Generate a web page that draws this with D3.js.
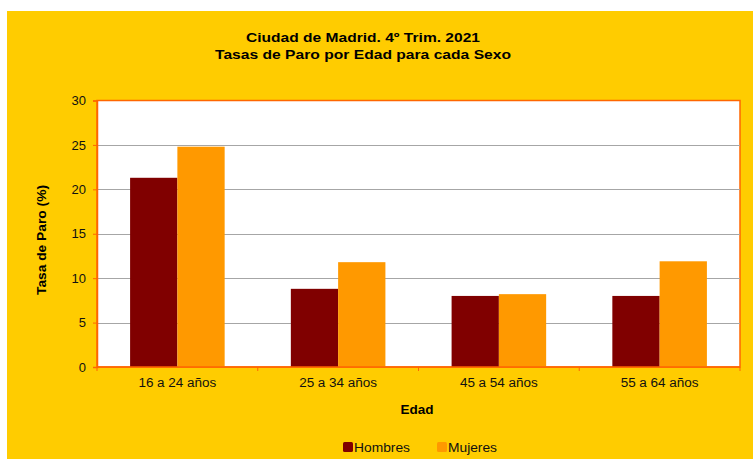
<!DOCTYPE html>
<html>
<head>
<meta charset="utf-8">
<script src="https://cdn.jsdelivr.net/npm/d3@7"></script>
<style>
body { margin: 0; background: #fff; }
text { font-family: "Liberation Sans", Arial, sans-serif; }
</style>
</head>
<body>
<svg id="main-svg" width="753" height="459"></svg>
<script>
// data
var categories = ["16 a 24 años", "25 a 34 años", "45 a 54 años", "55 a 64 años"];
var series = ["Hombres", "Mujeres"];
var hombres = [21.3, 8.8, 8.0, 8.0];
var mujeres = [24.8, 11.8, 8.2, 11.9];
var yTicks = [0, 5, 10, 15, 20, 25, 30];

var colors = {Hombres: "#800000", Mujeres: "#FF9900"};
var values = {Hombres: hombres, Mujeres: mujeres};

var svg = d3.select("#main-svg");

// chart background
svg.append("rect")
    .attr("x", 7).attr("y", 11)
    .attr("width", 746).attr("height", 448)
    .attr("fill", "#FFCC00");

// plot area bounds (don't call it "top", that's window.top)
var plotL = 97, plotR = 740, plotT = 100.5, plotB = 367;

var x = d3.scaleBand().domain(categories).range([plotL, plotR]);
var xs = d3.scaleBand().domain(series).range([0, x.bandwidth()]).paddingInner(0).paddingOuter(0.7);
var y = d3.scaleLinear().domain([0, 30]).range([plotB, plotT]);

// plot area
svg.append("rect")
    .attr("x", plotL).attr("y", plotT)
    .attr("width", plotR - plotL).attr("height", plotB - plotT)
    .attr("fill", "#fff")
    .attr("stroke", "#FF6600").attr("stroke-width", 1.5);

// gridlines
svg.append("g").selectAll("line")
    .data(yTicks.filter(function (d) { return d > 0 && d < 30; }))
    .enter().append("line")
    .attr("x1", plotL).attr("x2", plotR)
    .attr("y1", function (d) { return Math.round(y(d)) + 0.5; })
    .attr("y2", function (d) { return Math.round(y(d)) + 0.5; })
    .attr("stroke", "#A6A6A6").attr("stroke-width", 1);

// bars
var rows = [];
categories.forEach(function (c, i) {
    series.forEach(function (s) {
        rows.push({cat: c, ser: s, val: values[s][i]});
    });
});
svg.append("g").selectAll("rect")
    .data(rows)
    .enter().append("rect")
    .attr("x", function (d) { return x(d.cat) + xs(d.ser); })
    .attr("y", function (d) { return y(d.val); })
    .attr("width", xs.bandwidth())
    .attr("height", function (d) { return plotB - y(d.val); })
    .attr("fill", function (d) { return colors[d.ser]; });

// y axis
var yAxis = d3.axisLeft(y).tickValues(yTicks).tickSize(4).tickPadding(7);
var gy = svg.append("g").attr("transform", "translate(" + plotL + ",0)").call(yAxis);
gy.select(".domain").attr("stroke", "#FF6600").attr("stroke-width", 1.5);
gy.selectAll(".tick line").attr("stroke", "#FF6600");
gy.selectAll("text").attr("font-size", "13px").attr("fill", "#111")
    .style("font-family", "Liberation Sans, Arial, sans-serif");

// x axis with ticks on category boundaries
svg.append("line")
    .attr("x1", plotL).attr("x2", plotR)
    .attr("y1", plotB).attr("y2", plotB)
    .attr("stroke", "#FF6600").attr("stroke-width", 1.5);
svg.append("g").selectAll("line")
    .data(categories.concat(["end"]))
    .enter().append("line")
    .attr("x1", function (d) { return d === "end" ? plotR : x(d); })
    .attr("x2", function (d) { return d === "end" ? plotR : x(d); })
    .attr("y1", plotB).attr("y2", plotB + 4)
    .attr("stroke", "#FF6600");
svg.append("g").selectAll("text")
    .data(categories)
    .enter().append("text")
    .attr("x", function (d) { return x(d) + x.bandwidth() / 2; })
    .attr("y", 387)
    .attr("text-anchor", "middle")
    .attr("font-size", "12.5px")
    .attr("textLength", 78).attr("lengthAdjust", "spacingAndGlyphs")
    .attr("fill", "#111")
    .text(function (d) { return d; });

// titles
svg.append("text")
    .attr("x", 363).attr("y", 42)
    .attr("text-anchor", "middle")
    .attr("font-size", "13.5px").attr("font-weight", "bold")
    .attr("textLength", 234).attr("lengthAdjust", "spacingAndGlyphs")
    .text("Ciudad de Madrid. 4º Trim. 2021");
svg.append("text")
    .attr("x", 363).attr("y", 59)
    .attr("text-anchor", "middle")
    .attr("font-size", "13.5px").attr("font-weight", "bold")
    .attr("textLength", 296).attr("lengthAdjust", "spacingAndGlyphs")
    .text("Tasas de Paro por Edad para cada Sexo");

svg.append("text")
    .attr("transform", "translate(46,240) rotate(-90)")
    .attr("text-anchor", "middle")
    .attr("font-size", "12.5px").attr("font-weight", "bold")
    .attr("textLength", 110).attr("lengthAdjust", "spacingAndGlyphs")
    .text("Tasa de Paro (%)");

svg.append("text")
    .attr("x", 417).attr("y", 414)
    .attr("text-anchor", "middle")
    .attr("font-size", "12.5px").attr("font-weight", "bold")
    .attr("textLength", 33).attr("lengthAdjust", "spacingAndGlyphs")
    .text("Edad");

// legend
var legendX = [343, 437];
var legendW = [56, 49];
var legend = svg.append("g").selectAll("g")
    .data(series)
    .enter().append("g")
    .attr("transform", function (d, i) { return "translate(" + legendX[i] + ",442)"; });
legend.append("rect")
    .attr("width", 10).attr("height", 10).attr("rx", 1.5)
    .attr("fill", function (d) { return colors[d]; });
legend.append("text")
    .attr("x", 11).attr("y", 10)
    .attr("font-size", "13px")
    .attr("textLength", function (d, i) { return legendW[i]; })
    .attr("lengthAdjust", "spacingAndGlyphs")
    .attr("fill", "#111")
    .text(function (d) { return d; });
</script>
</body>
</html>
